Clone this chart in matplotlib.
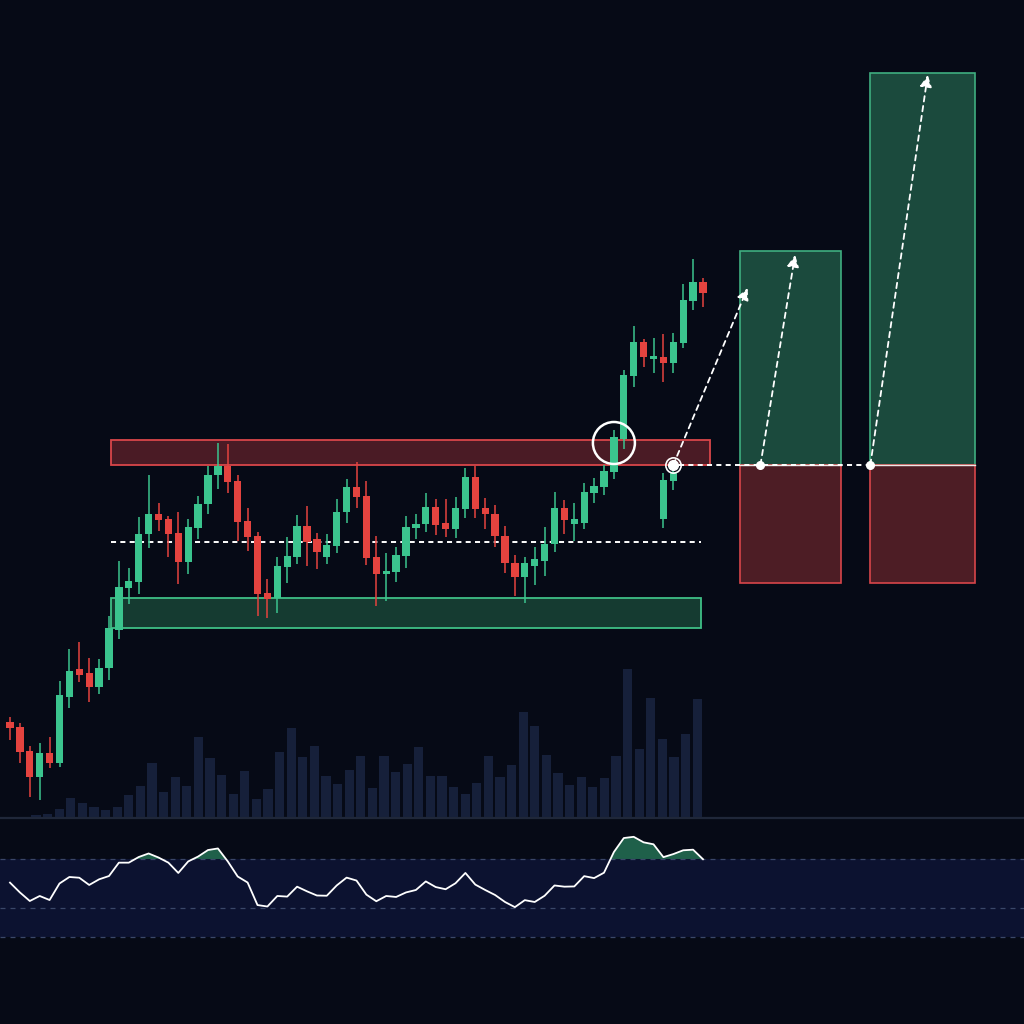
import numpy as np
import matplotlib
matplotlib.use("Agg")
import matplotlib.pyplot as plt
from matplotlib.patches import Rectangle, Ellipse, FancyArrowPatch

# ---------------- data ----------------
open_ = [27.8, 27.3, 24.9, 22.3, 24.7, 23.7, 30.3, 33.1, 32.7, 31.3,
         33.2, 37.0, 41.2, 41.8, 46.6, 48.6, 48.1, 46.7, 43.8, 47.2,
         49.6, 52.5, 53.4, 51.9, 47.9, 46.4, 40.7, 40.2, 43.3, 44.3,
         47.4, 46.1, 44.3, 45.4, 48.8, 51.3, 50.4, 44.3, 42.6, 42.8,
         44.4, 47.2, 47.6, 49.3, 47.7, 47.1, 49.1, 52.3, 49.2, 48.6,
         46.4, 43.7, 42.3, 43.4, 43.9, 45.6, 49.2, 47.6, 47.7, 50.7,
         51.3, 52.8, 56.1, 62.4, 65.8, 64.1, 64.3, 63.7, 65.7, 69.9, 71.8]
high = [28.3, 27.7, 25.4, 25.7, 26.3, 31.9, 35.1, 35.8, 34.2, 34.1,
        38.4, 43.9, 43.2, 48.3, 52.5, 49.7, 48.4, 48.8, 48.1, 50.4,
        53.4, 55.7, 55.6, 52.5, 49.2, 46.8, 42.1, 44.3, 46.3, 48.5,
        49.4, 46.7, 46.6, 50.1, 52.1, 53.8, 51.9, 46.4, 44.7, 45.3,
        48.4, 48.6, 50.7, 50.1, 50.1, 50.3, 53.2, 53.4, 50.2, 49.5,
        47.4, 44.5, 44.3, 45.3, 47.3, 50.8, 50.0, 49.7, 51.7, 52.2,
        53.5, 57.0, 63.0, 67.4, 66.1, 66.2, 66.6, 66.7, 71.6, 74.1, 72.2]
low = [26.0, 23.7, 20.3, 20.0, 23.2, 23.3, 29.2, 31.8, 29.8, 30.6,
       32.0, 36.1, 39.6, 40.6, 45.2, 46.9, 44.3, 41.6, 42.6, 46.1,
       48.6, 51.1, 50.7, 45.9, 44.9, 38.4, 38.2, 38.7, 41.7, 43.6,
       43.4, 43.1, 43.6, 44.7, 47.7, 49.2, 43.5, 39.4, 39.9, 41.8,
       43.2, 46.1, 46.8, 46.5, 46.3, 46.2, 48.2, 48.2, 47.1, 45.3,
       42.7, 40.4, 39.7, 41.5, 42.4, 44.8, 46.6, 45.9, 47.1, 49.7,
       50.5, 52.1, 55.1, 61.3, 63.3, 62.7, 61.8, 62.7, 65.2, 69.0, 69.3]
close = [27.2, 24.8, 22.3, 24.7, 23.7, 30.5, 32.9, 32.5, 31.3, 33.2,
         37.2, 41.3, 41.9, 46.6, 48.6, 48.0, 46.6, 43.8, 47.3, 49.6,
         52.5, 53.4, 51.8, 47.8, 46.3, 40.6, 40.1, 43.4, 44.4, 47.4,
         45.8, 44.8, 45.5, 48.8, 51.3, 50.3, 44.2, 42.6, 42.9, 44.5,
         47.3, 47.6, 49.3, 47.5, 47.1, 49.2, 52.3, 49.1, 48.6, 46.4,
         43.7, 42.3, 43.7, 44.1, 45.6, 49.2, 48.0, 48.1, 50.8, 51.4,
         52.9, 56.3, 62.5, 65.8, 64.3, 64.4, 63.7, 65.8, 70.0, 71.8, 70.7]

# projected retest candles drawn on top of the rally
retest_idx = [66, 67]
retest_open = [48.1, 51.9]
retest_high = [52.7, 53.7]
retest_low = [47.2, 51.0]
retest_close = [52.0, 52.8]

volume = [20, 33, 80, 187, 137, 103, 70, 103, 220, 310,
          537, 250, 403, 310, 800, 593, 420, 230, 463, 177,
          280, 650, 890, 600, 707, 410, 330, 470, 613, 287,
          610, 447, 533, 697, 410, 410, 303, 227, 343, 610,
          403, 523, 1047, 913, 620, 437, 323, 397, 303, 393,
          610, 1480, 680, 1193, 777, 597, 827, 1180]

rsi = [50.7, 42.7, 35.7, 39.8, 36.5, 50.0, 55.3, 54.7, 48.8, 53.4,
       56.1, 67.0, 67.0, 71.6, 74.5, 71.2, 67.0, 58.6, 68.0, 72.0,
       77.3, 78.6, 68.0, 55.7, 50.8, 32.4, 31.2, 39.8, 39.3, 47.4,
       43.6, 40.2, 40.0, 48.4, 54.8, 52.4, 40.9, 35.5, 39.8, 39.0,
       42.7, 44.7, 51.7, 47.1, 45.3, 50.2, 58.6, 49.1, 44.7, 40.6,
       34.9, 30.7, 36.4, 34.9, 40.0, 48.4, 47.4, 47.6, 56.0, 54.4,
       58.8, 75.7, 87.1, 88.1, 83.6, 82.0, 71.5, 74.0, 77.1, 77.6, 69.8]

resistance_zone = [53.5, 56.0]
support_zone = [37.2, 40.2]
range_mid = 45.8
entry = 53.5
stop = 41.7
targets = [74.9, 92.7]
rsi_levels = [70, 30, 6]

# ---------------- style ----------------
BG = '#060a16'
GREEN = '#3bc48e'
RED = '#e4433f'
VOLC = '#16203a'

fig = plt.figure(figsize=(10.24, 10.24), dpi=100, facecolor=BG)

# volume axes (own index scale)
axv = fig.add_axes([0, 0, 1, 1], zorder=1)
axv.set_facecolor(BG)
axv.axis('off')
vx = np.arange(len(volume))
axv.bar(vx, volume, width=0.78, color=VOLC, edgecolor='none')
axv.axhline(-10, color='#1f2739', lw=1.6)
axv.set_xlim((0 - 36) / 11.6, (1024 - 36) / 11.6)
axv.set_ylim(-2070, 8170)

# RSI axes
axr = fig.add_axes([0, 0, 1, 1], zorder=2)
axr.patch.set_alpha(0)
axr.axis('off')
axr.axhspan(rsi_levels[2], rsi_levels[0], color='#0c1230', lw=0)
for lv in rsi_levels:
    axr.axhline(lv, color='#3a4768', lw=0.9, dashes=(4, 4))
rx = np.arange(len(rsi))
rs = np.array(rsi)
axr.fill_between(rx, rsi_levels[0], rs, where=rs >= rsi_levels[0],
                 interpolate=True, color='#226a50', alpha=0.9, lw=0)
axr.plot(rx, rs, color='white', lw=1.3)
axr.set_xlim(-10 / 9.9, 1014 / 9.9)
axr.set_ylim(-64.7, 771.2)

# main price axes
ax = fig.add_axes([0, 0, 1, 1], zorder=3)
ax.patch.set_alpha(0)
ax.axis('off')
ax.set_xlim(-10 / 9.9, 1014 / 9.9)
ax.set_ylim(-2.4, 100)

# zones
zx0, zx1r, zx1s = 10.2, 70.7, 69.8
ax.add_patch(Rectangle((zx0, resistance_zone[0]), zx1r - zx0,
                       resistance_zone[1] - resistance_zone[0],
                       facecolor='#4a1b25', edgecolor='#d9464a', lw=1.3, zorder=1))
ax.add_patch(Rectangle((zx0, support_zone[0]), zx1s - zx0,
                       support_zone[1] - support_zone[0],
                       facecolor='#153b31', edgecolor='#3fbf86', lw=1.3, zorder=1))
ax.plot([zx0, zx1s], [range_mid, range_mid], color='white', lw=1.4,
        dashes=(2.6, 2.2), zorder=2)


def draw_candles(xs, o, h, l, c):
    xs = np.asarray(xs); o = np.asarray(o); h = np.asarray(h)
    l = np.asarray(l); c = np.asarray(c)
    cols = np.where(c >= o, GREEN, RED)
    ax.vlines(xs, l, h, colors=cols, lw=1.1, zorder=4)
    bottom = np.minimum(o, c)
    height = np.maximum(np.abs(c - o), 0.3)
    ax.bar(xs, height, bottom=bottom, width=0.74, color=cols,
           edgecolor='none', zorder=5)


draw_candles(np.arange(len(close)), open_, high, low, close)
draw_candles(retest_idx, retest_open, retest_high, retest_low, retest_close)

# breakout circle
ax.add_patch(Ellipse((61.0, 55.7), 42 / 9.9, 4.2, facecolor='none',
                     edgecolor='white', lw=1.8, zorder=6))

# trade boxes
boxes = [(73.7, 83.9), (86.9, 97.5)]
for (b0, b1), tp in zip(boxes, targets):
    ax.add_patch(Rectangle((b0, entry), b1 - b0, tp - entry, facecolor='#1b4a3d',
                           edgecolor='#3fae80', lw=1.2, zorder=1))
    ax.add_patch(Rectangle((b0, stop), b1 - b0, entry - stop, facecolor='#4d1d25',
                           edgecolor='#d8454a', lw=1.2, zorder=1))
    ax.plot([b0, b1], [entry, entry], color='#f0e6e6', lw=1.0, zorder=2)

# entry dashed line
ax.plot([67.6, 86.9], [entry, entry], color='white', lw=1.4, dashes=(2.6, 2.2), zorder=2)

# retest marker
ax.plot([67], [entry], 'o', ms=11, mfc='none', mec='white', mew=1.2, zorder=7)
ax.plot([67], [entry], 'o', ms=7, color='white', zorder=7)

# projection arrows
arrows = [((67, entry), (74.5, 71.2)),
          ((75.8, entry), (79.3, 74.5)),
          ((86.9, entry), (92.7, 92.5))]
for (p0, p1) in arrows:
    ln = ax.annotate('', xy=p1, xytext=p0, zorder=8,
                     arrowprops=dict(arrowstyle='-|>,head_length=0.7,head_width=0.35',
                                     color='white', lw=1.3, linestyle=(0, (3, 2.5)),
                                     shrinkA=0, shrinkB=0))
ax.plot([75.8, 86.9], [entry, entry], 'o', ms=5.5, color='white', zorder=7)

fig.savefig('out.png', dpi=100, facecolor=BG)
